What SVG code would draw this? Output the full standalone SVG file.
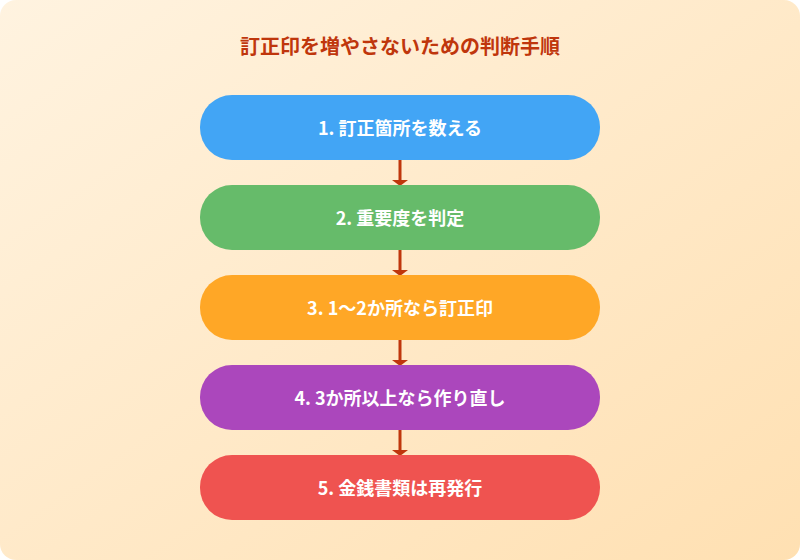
<svg xmlns="http://www.w3.org/2000/svg" width="800" height="560" viewBox="0 0 800 560">
<defs>
<linearGradient id="bg" x1="0" y1="0" x2="1" y2="1"><stop offset="0" stop-color="#fff3e0"/><stop offset="1" stop-color="#ffe0b2"/></linearGradient>
<marker id="ah" viewBox="0 0 10 10" refX="9" refY="5" markerWidth="5" markerHeight="5" markerUnits="userSpaceOnUse" orient="auto"><path d="M0,0 L10,5 L0,10 z" fill="#bf360c"/></marker>
<style>
.t{font-family:"Noto Sans CJK JP","Noto Sans",sans-serif;font-weight:bold;font-size:18px;fill:#fff;text-anchor:middle;dominant-baseline:central}
.c{stroke:#bf360c;stroke-width:3;fill:none}
</style>
</defs>
<rect width="800" height="560" rx="16" fill="url(#bg)"/>
<text x="400" y="45" text-anchor="middle" dominant-baseline="central" font-family="Noto Sans CJK JP,sans-serif" font-weight="bold" font-size="20" fill="#bf360c">訂正印を増やさないための判断手順</text>
<g id="connectors">
<line class="c" x1="400" y1="160" x2="400" y2="184"/><path d="M392,180 L408,180 L400,186 z" fill="#bf360c"/>
<line class="c" x1="400" y1="250" x2="400" y2="274"/><path d="M392,270 L408,270 L400,276 z" fill="#bf360c"/>
<line class="c" x1="400" y1="340" x2="400" y2="364"/><path d="M392,360 L408,360 L400,366 z" fill="#bf360c"/>
<line class="c" x1="400" y1="430" x2="400" y2="454"/><path d="M392,450 L408,450 L400,456 z" fill="#bf360c"/>
</g>
<g id="n1"><rect x="200" y="95" width="400" height="65" rx="32" fill="#42a5f5"/><text class="t" x="400" y="127">1. 訂正箇所を数える</text></g>
<g id="n2"><rect x="200" y="185" width="400" height="65" rx="32" fill="#66bb6a"/><text class="t" x="400" y="217">2. 重要度を判定</text></g>
<g id="n3"><rect x="200" y="275" width="400" height="65" rx="32" fill="#ffa726"/><text class="t" x="400" y="307">3. 1〜2か所なら訂正印</text></g>
<g id="n4"><rect x="200" y="365" width="400" height="65" rx="32" fill="#ab47bc"/><text class="t" x="400" y="397">4. 3か所以上なら作り直し</text></g>
<g id="n5"><rect x="200" y="455" width="400" height="65" rx="32" fill="#ef5350"/><text class="t" x="400" y="487">5. 金銭書類は再発行</text></g>
</svg>
